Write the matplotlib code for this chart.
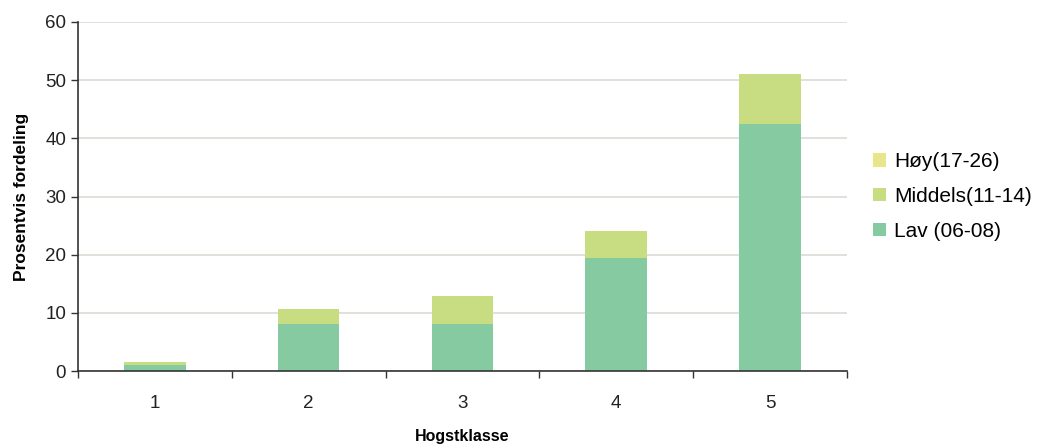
import numpy as np
import matplotlib.pyplot as plt
from matplotlib.ticker import FixedLocator

plt.rcParams['font.family'] = ['Liberation Sans', 'DejaVu Sans']

klasser = ['1', '2', '3', '4', '5']
lav = [1.0, 8.1, 8.1, 19.4, 42.4]
middels = [0.5, 2.5, 4.8, 4.6, 8.6]
hoy = [0.05, 0.1, 0.0, 0.0, 0.0]

farger = {'lav': '#86caa2', 'middels': '#c8dc82', 'hoy': '#e8e68a'}

fig = plt.figure(figsize=(10.46, 4.45), dpi=100)
ax = fig.add_axes([0.0746, 0.166, 0.735, 0.7846])

x = np.arange(len(klasser))
w = 0.4
lav_a = np.array(lav)
mid_a = np.array(middels)
hoy_a = np.array(hoy)

b1 = ax.bar(x, lav_a, w, color=farger['lav'], label='Lav (06-08)', zorder=2)
b2 = ax.bar(x, mid_a, w, bottom=lav_a, color=farger['middels'], label='Middels(11-14)', zorder=2)
b3 = ax.bar(x, hoy_a, w, bottom=lav_a + mid_a, color=farger['hoy'], label='Høy(17-26)', zorder=2)

ax.set_xlim(-0.5, len(klasser) - 0.5)
ax.set_ylim(0, 60)
ax.set_yticks(range(0, 61, 10))
ax.set_xticks(x)
ax.set_xticklabels(klasser)
ax.xaxis.set_minor_locator(FixedLocator(np.arange(-0.5, len(klasser), 1)))
ax.tick_params(axis='x', which='major', length=0, pad=17, labelsize=13.5, colors='#222222')
ax.tick_params(axis='x', which='minor', length=5, width=1, color='#333333')
ax.tick_params(axis='y', length=5, width=1, color='#333333', labelsize=13.5, labelcolor='#222222')

ax.grid(axis='y', color='#dcdcd4', linewidth=1.2, zorder=0)
for s in ['top', 'right']:
    ax.spines[s].set_visible(False)
for s in ['left', 'bottom']:
    ax.spines[s].set_color('#333333')
    ax.spines[s].set_linewidth(1.2)

ax.set_xlabel('Hogstklasse', fontsize=11.5, fontweight='bold')
ax.xaxis.set_label_coords(0.5, -0.166)
ax.set_ylabel('Prosentvis fordeling', fontsize=12.5, fontweight='bold', labelpad=12)

ax.legend(handles=[b3, b2, b1], loc='center left', bbox_to_anchor=(1.01, 0.5),
          frameon=False, fontsize=15, handlelength=0.6, handleheight=0.6,
          handletextpad=0.4, labelspacing=0.75)

fig.savefig('out.png', dpi=100)
